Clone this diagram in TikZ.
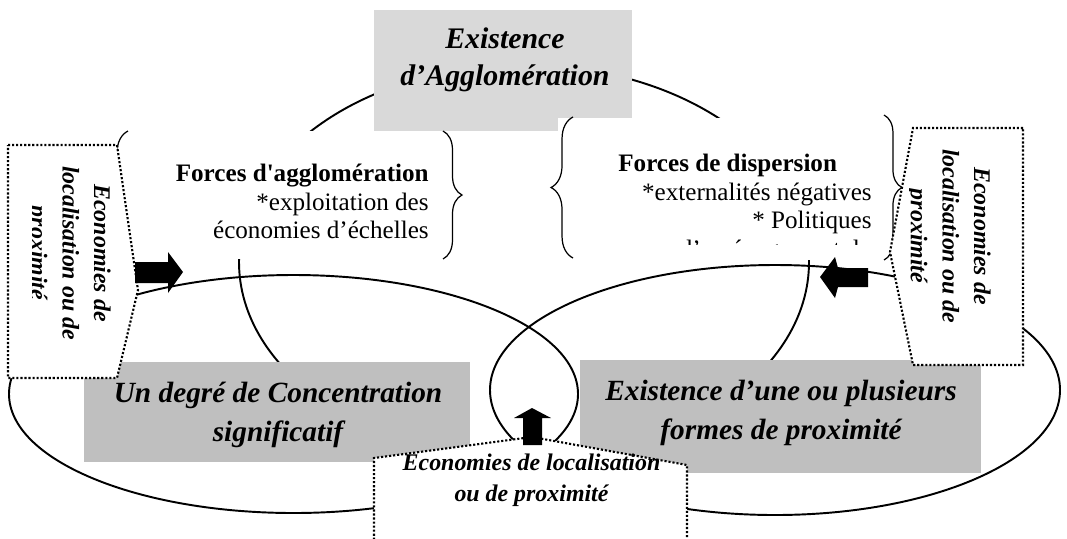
\documentclass[tikz,border=0pt]{standalone}
\usepackage{fontspec}
\newfontfamily\tnr{Liberation Serif}
\usetikzlibrary{decorations.pathreplacing}
\tikzset{
  ring/.style={line width=1.1pt},
  topbox/.style={fill=black!15},
  greybox/.style={fill=black!25},
  hider/.style={fill=white},
  brc/.style={line width=0.7pt, decorate},
  dotbox/.style={draw, fill=white, line width=1.2pt, dash pattern=on 1.2pt off 1.1pt},
  blockarrow/.style={fill=black},
  forces/.style={font=\tnr\fontsize{14.3}{16.2}\selectfont, inner sep=0pt},
  toptxt/.style={font=\tnr\bfseries\itshape\fontsize{17}{21}\selectfont, align=center, inner sep=0pt},
  bigtxt/.style={font=\tnr\bfseries\itshape\fontsize{16.7}{22.3}\selectfont, align=center, inner sep=0pt},
  calltxt/.style={font=\tnr\bfseries\itshape\fontsize{13.6}{18}\selectfont, align=center, inner sep=0pt}
}
\begin{document}
\begin{tikzpicture}[x=0.02cm,y=-0.02cm]
\useasboundingbox (0,0) rectangle (1067,538);
% loops
\draw[ring] (524,262) ellipse [x radius=285, y radius=197];
\draw[ring] (293.5,394) ellipse [x radius=284.5, y radius=119];
\draw[ring] (775,390) ellipse [x radius=285, y radius=125];
% grey boxes
\fill[topbox] (374,10) rectangle (632,131);
\fill[greybox] (84,362) rectangle (470,462);
\fill[greybox] (580,360) rectangle (981,473);
% brace regions
\fill[hider] (117,131) rectangle (462,259);
\fill[hider] (558,118) rectangle (905,260);
\draw[brc, decoration={brace, amplitude=12.5pt}] (128,259) -- (128,131);
\draw[brc, decoration={brace, amplitude=10.8pt}] (443,131) -- (443,259);
\draw[brc, decoration={brace, amplitude=12.5pt}] (573,258) -- (573,117);
\draw[brc, decoration={brace, amplitude=10.2pt}] (884,115) -- (884,260);
% texts
\node[toptxt] (agg) at (505,60) {Existence\\d’Agglomération};
\node[forces, align=right, anchor=north east] (fagg) at (429,164)
  {\textbf{Forces d'agglomération}\\{*}exploitation des\\économies d’échelles};
\node[forces, anchor=base west] (fdisp) at (618,171) {\bfseries Forces de dispersion};
\begin{scope}
\clip (558,118) rectangle (905,244);
\node[forces, align=right, anchor=north east] (fdispl) at (872,182.5)
  {{*}externalités négatives\\{*} Politiques\\d’aménagement du};
\end{scope}
\node[bigtxt] (conc) at (278,415) {Un degré de Concentration\\significatif};
\node[bigtxt] (prox) at (781,413) {Existence d’une ou plusieurs\\formes de proximité};
% callouts
\draw[dotbox] (8,145) -- (117,145) -- (138,290) -- (117,378) -- (8,378) -- cycle;
\draw[dotbox] (1023,128) -- (913,128) -- (890,252) -- (913,365) -- (1023,365) -- cycle;
\draw[dotbox] (374,560) -- (374,458) -- (532,437) -- (687,465) -- (687,560) -- cycle;
\begin{scope}
\clip (32,145) rectangle (117,378);
\node[calltxt, rotate=-90] (ecoL) at (68.3,253) {Economies de\\localisation ou de\\proximité};
\end{scope}
\begin{scope}
\clip (909,128) rectangle (1023,365);
\node[calltxt, rotate=-90] (ecoR) at (948.3,236) {Economies de\\localisation ou de\\proximité};
\end{scope}
\node[calltxt] (ecoB) at (531.5,480.4) {Economies de localisation\\ou de proximité};
% block arrows
\fill[blockarrow] (135,262) -- (168,262) -- (168,252) -- (183,272) -- (168,293) -- (168,283) -- (135,283) -- cycle;
\fill[blockarrow] (868,268) -- (838,268) -- (835,257) -- (820,277) -- (835,298) -- (838,287) -- (868,287) -- cycle;
\fill[blockarrow] (523,445) -- (523,418) -- (514,418) -- (532,408) -- (551,418) -- (542,418) -- (542,445) -- cycle;
\end{tikzpicture}
\end{document}
